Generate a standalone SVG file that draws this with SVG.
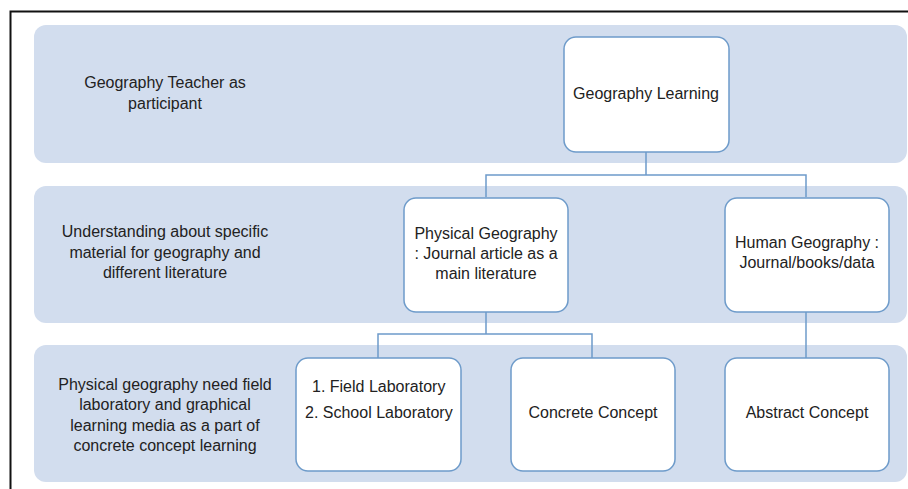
<svg xmlns="http://www.w3.org/2000/svg" width="908" height="489" viewBox="0 0 908 489">
<style>
.band{fill:#D2DDEE;}
.node{fill:#FFFFFF;stroke:#6E9BCA;stroke-width:1.5;}
.conn{fill:none;stroke:#6E9BCA;stroke-width:1.5;}
text{font-family:"Liberation Sans",Arial,sans-serif;font-size:16px;fill:#222222;}
.c{text-anchor:middle;}
</style>
<rect x="0" y="0" width="908" height="489" fill="#FFFFFF"/>
<path d="M10.5,489 V11.5 H908" fill="none" stroke="#111111" stroke-width="2"/>
<g id="band1"><rect class="band" x="34" y="25" width="873" height="138" rx="12"/>
<text class="c" x="165" y="88">Geography Teacher as</text>
<text class="c" x="165" y="109">participant</text></g>
<g id="band2"><rect class="band" x="34" y="186" width="873" height="137" rx="12"/>
<text class="c" x="165" y="237">Understanding about specific</text>
<text class="c" x="165" y="258">material for geography and</text>
<text class="c" x="165" y="278">different literature</text></g>
<g id="band3"><rect class="band" x="34" y="345" width="873" height="137" rx="12"/>
<text class="c" x="165" y="390">Physical geography need field</text>
<text class="c" x="165" y="410">laboratory and graphical</text>
<text class="c" x="165" y="431">learning media as a part of</text>
<text class="c" x="165" y="451">concrete concept learning</text></g>
<g id="connectors">
<path class="conn" d="M646,152 V175 M486,197 V175 H806 V197"/>
<path class="conn" d="M486,312 V334 M378,358 V334 H592 V358"/>
<path class="conn" d="M806,312 V358"/>
</g>
<g id="geography-learning"><rect class="node" x="564" y="37" width="165" height="115" rx="12"/>
<text class="c" x="646" y="99">Geography Learning</text></g>
<g id="physical-geography"><rect class="node" x="404" y="198" width="164" height="114" rx="12"/>
<text class="c" x="486" y="239">Physical Geography</text>
<text class="c" x="486" y="259">: Journal article as a</text>
<text class="c" x="486" y="279">main literature</text></g>
<g id="human-geography"><rect class="node" x="725" y="198" width="164" height="114" rx="12"/>
<text class="c" x="807" y="248">Human Geography :</text>
<text class="c" x="807" y="268">Journal/books/data</text></g>
<g id="laboratory"><rect class="node" x="296" y="358" width="165" height="113" rx="12"/>
<text x="312" y="392">1. Field Laboratory</text>
<text x="305" y="418">2. School Laboratory</text></g>
<g id="concrete-concept"><rect class="node" x="511" y="358" width="164" height="113" rx="12"/>
<text class="c" x="593" y="418">Concrete Concept</text></g>
<g id="abstract-concept"><rect class="node" x="725" y="358" width="164" height="113" rx="12"/>
<text class="c" x="807" y="418">Abstract Concept</text></g>
</svg>
